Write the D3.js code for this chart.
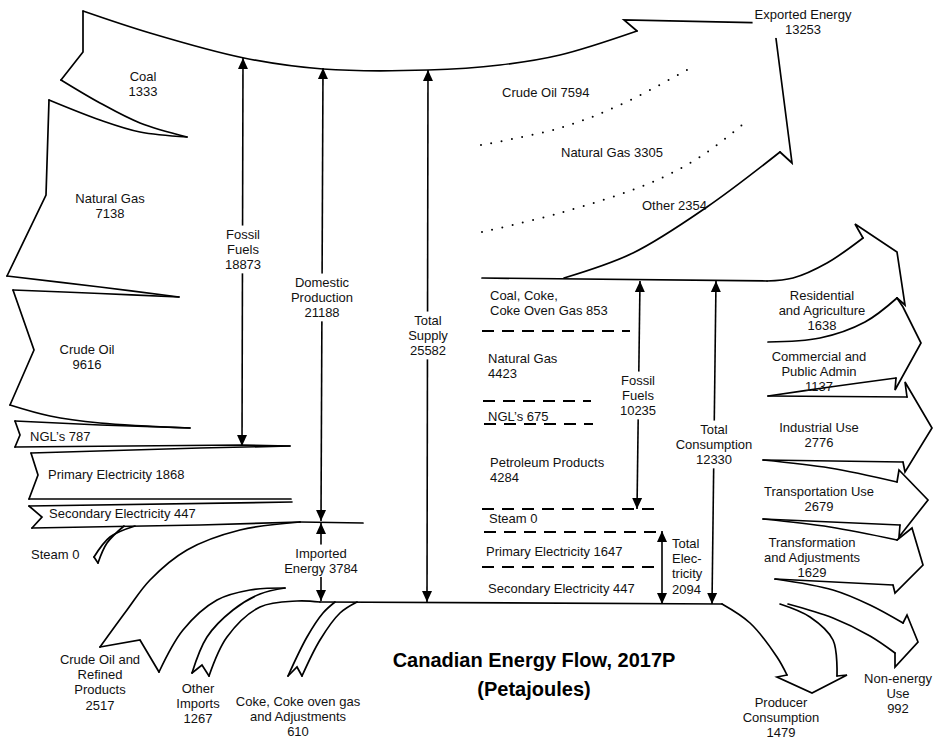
<!DOCTYPE html>
<html><head><meta charset="utf-8">
<script src="https://cdn.jsdelivr.net/npm/d3@7"></script>
<style>
body{margin:0;background:#fff}
svg{display:block}
text{font-family:"Liberation Sans",Arial,sans-serif;font-size:13px;fill:#111}
</style>
</head><body>
<svg id="chart" width="937" height="740"></svg>
<script>
// ---------------- DATA ----------------
const sourceLabels = ["Coal","Natural Gas","Crude Oil","NGL\u2019s","Primary Electricity","Secondary Electricity","Steam"];
const sourceValues = [1333,7138,9616,787,1868,447,0];

const importLabels = ["Crude Oil and\nRefined\nProducts","Other\nImports","Coke, Coke oven gas\nand Adjustments"];
const importValues = [2517,1267,610];

const exportLabels = ["Crude Oil","Natural Gas","Other"];
const exportValues = [7594,3305,2354];

const domesticLabels = ["Coal, Coke,\nCoke Oven Gas","Natural Gas","NGL\u2019s","Petroleum Products","Steam","Primary Electricity","Secondary Electricity"];
const domesticValues = [853,4423,675,4284,0,1647,447];

const useLabels = ["Residential\nand Agriculture","Commercial and\nPublic Admin","Industrial Use","Transportation Use","Transformation\nand Adjustments","Non-energy\nUse","Producer\nConsumption"];
const useValues = [1638,1137,2776,2679,1629,992,1479];

const totalLabels = ["Fossil\nFuels","Domestic\nProduction","Total\nSupply","Imported\nEnergy","Exported Energy","Fossil\nFuels","Total\nConsumption","Total\nElec-\ntricity"];
const totalValues = [18873,21188,25582,3784,13253,10235,12330,2094];

const titleLines = ["Canadian Energy Flow, 2017P","(Petajoules)"];

// ---------------- LAYOUT (drawing geometry of the schematic) ----------------
const C = true, L = false; // curved / straight edge
const edges = [
  // supply band top
  [C,[[83,11],[150,33],[244,58],[323,69],[428,70],[500,65],[560,55],[637,31]]],
  // coal
  [L,[[83,11],[83,52],[61,80]]],
  [C,[[61,80],[100,103],[140,123],[187,137]]],
  // natural gas
  [C,[[49,100],[100,120],[140,132],[187,137]]],
  [L,[[49,100],[46,195],[7,276]]],
  [C,[[7,276],[100,287],[179,297]]],
  // crude oil
  [C,[[13,290],[100,293.5],[179,297]]],
  [L,[[13,290],[34,350],[10,405]]],
  [C,[[10,405],[50,416],[100,423],[190,428]]],
  // NGL
  [L,[[15,421],[100,425],[190,428]]],
  [L,[[15,421],[20,435],[15,447]]],
  [L,[[15,447],[242,445],[290,446]]],
  // primary electricity
  [L,[[31,453],[200,448],[290,446]]],
  [L,[[31,453],[38,475],[29,499]]],
  [L,[[29,499],[291,499]]],
  // secondary electricity
  [L,[[29,506],[292,502]]],
  [L,[[29,506],[42,517],[32,528]]],
  [L,[[32,528],[200,525],[300,522]]],
  [L,[[300,522],[363,523]]],
  // steam
  [C,[[135,526],[110,537],[94,557]]],
  [L,[[94,557],[98,563]]],
  [C,[[98,563],[107,543],[124,526]]],
  // imports: crude oil & refined products
  [C,[[300,522],[240,530],[187,550],[150,580],[127,610],[100,647]]],
  [L,[[100,647],[140,640],[159,672]]],
  [C,[[159,672],[183,630],[217,600],[250,590],[285,588]]],
  // other imports
  [C,[[192,673],[207,637],[233,610],[260,594],[285,588]]],
  [L,[[192,673],[202,665],[209,676]]],
  [C,[[209,676],[227,637],[260,607],[297,601],[320,602]]],
  // coke
  [C,[[288,676],[307,637],[323,613],[335,602]]],
  [L,[[288,676],[297,667],[302,676]]],
  [C,[[302,676],[320,640],[340,613],[357,602]]],
  // bottom main line
  [L,[[320,602],[722,604]]],
  // export arrow
  [L,[[637,31],[624,20],[774,23],[792,163],[780,152]]],
  [C,[[780,152],[707,207],[633,253],[564,278]]],
  // demand band top line + residential
  [L,[[482,278],[767,281]]],
  [C,[[767,281],[793,278],[827,263],[863,238]]],
  [L,[[863,238],[855,224],[897,252],[905,305],[897,298]]],
  [C,[[768,342],[820,338],[865,322],[897,298]]],
  // commercial
  [L,[[897,298],[903,307],[921,343],[895,390],[896,378]]],
  [C,[[896,378],[830,387],[768,396]]],
  // industrial
  [L,[[768,396],[907,397]]],
  [L,[[907,397],[905,382],[932,428],[905,472],[903,462]]],
  [L,[[903,462],[763,460]]],
  // transportation
  [C,[[763,460],[830,468],[897,482]]],
  [L,[[897,482],[899,470],[928,500],[899,537],[900,525]]],
  [L,[[900,525],[763,519]]],
  // transformation
  [C,[[763,519],[830,527],[897,540]]],
  [L,[[897,540],[912,528],[923,565],[895,593],[893,585]]],
  [L,[[893,585],[775,579]]],
  // non-energy
  [C,[[775,579],[833,590],[870,605],[903,623]]],
  [L,[[903,623],[907,615],[918,642],[895,667],[895,653]]],
  [C,[[895,653],[870,636],[833,618],[788,604]]],
  // producer consumption
  [C,[[722,604],[750,623],[777,657],[787,675]]],
  [L,[[787,675],[777,677],[812,693],[847,675],[837,676]]],
  [C,[[837,676],[833,640],[810,617],[780,604]]]
];

const dotted = [
  [[481,145],[560,128],[620,105],[687,70]],
  [[482,232],[560,213],[650,183],[700,157],[747,121]]
];
const dashed = [
  [[482,331],[630,331]],
  [[483,401],[591,401]],
  [[484,424],[593,424]],
  [[482,509],[660,509]],
  [[484,532],[660,532]],
  [[482,567],[660,567]]
];
// double-headed vertical arrows for totals (index into totalLabels), exported has none
const arrows = [
  {i:0,x1:243,y1:58,x2:242,y2:446},
  {i:1,x1:323,y1:68,x2:321,y2:521},
  {i:2,x1:428,y1:70,x2:427,y2:602},
  {i:3,x1:321,y1:523,x2:321,y2:601},
  {i:5,x1:640,y1:281,x2:637,y2:509},
  {i:6,x1:716,y1:281,x2:712,y2:604},
  {i:7,x1:662,y1:531,x2:662,y2:604}
];

const sourcePos = [
  {x:143,y:76,a:"middle",j:"\n"},{x:110,y:198,a:"middle",j:"\n"},{x:87,y:349,a:"middle",j:"\n"},
  {x:30,y:436,a:"start",j:" "},{x:48,y:474,a:"start",j:" "},{x:49,y:513,a:"start",j:" "},{x:31,y:554,a:"start",j:" "}
];
const importPos = [{x:100,y:659,a:"middle",j:"\n"},{x:198,y:688,a:"middle",j:"\n"},{x:298,y:701,a:"middle",j:"\n"}];
const exportPos = [{x:502,y:92,a:"start",j:" "},{x:561,y:152,a:"start",j:" "},{x:642,y:205,a:"start",j:" "}];
const domesticPos = [
  {x:490,y:295,a:"start",j:" "},{x:488,y:358,a:"start",j:"\n"},{x:488,y:416,a:"start",j:" "},
  {x:490,y:462,a:"start",j:"\n"},{x:489,y:518,a:"start",j:" "},{x:486,y:551,a:"start",j:" "},{x:488,y:588,a:"start",j:" "}
];
const usePos = [
  {x:822,y:295,a:"middle",j:"\n"},{x:819,y:356,a:"middle",j:"\n"},{x:819,y:427,a:"middle",j:"\n"},
  {x:819,y:491,a:"middle",j:"\n"},{x:812,y:542,a:"middle",j:"\n"},{x:898,y:678,a:"middle",j:"\n"},{x:781,y:702,a:"middle",j:"\n"}
];
const totalPos = [
  {x:243,y:234,a:"middle",j:"\n"},{x:322,y:282,a:"middle",j:"\n"},{x:428,y:320,a:"middle",j:"\n"},
  {x:321,y:553,a:"middle",j:" "},{x:803,y:14,a:"middle",j:"\n"},{x:638,y:380,a:"middle",j:"\n"},
  {x:714,y:429,a:"middle",j:"\n"},{x:672,y:543,a:"start",j:"\n"}
];
const LH = 15.4;

// ---------------- DRAW ----------------
const svg = d3.select("#chart");
svg.append("rect").attr("width",937).attr("height",740).attr("fill","#fff");

const defs = svg.append("defs");
defs.append("marker").attr("id","ah").attr("markerUnits","userSpaceOnUse")
  .attr("viewBox","0 -6 12 12").attr("refX",11).attr("refY",0)
  .attr("markerWidth",12).attr("markerHeight",12).attr("orient","auto-start-reverse")
  .append("path").attr("d","M0,-5L11,0L0,5Z").attr("fill","#000");

const curveLine = d3.line().curve(d3.curveCatmullRom.alpha(0.5));
const straightLine = d3.line().curve(d3.curveLinear);

svg.append("g").selectAll("path").data(edges).join("path")
  .attr("d", d => (d[0] ? curveLine : straightLine)(d[1]))
  .attr("fill","none").attr("stroke","#000").attr("stroke-width",1.7)
  .attr("stroke-linejoin","miter").attr("stroke-linecap","round");

svg.append("g").selectAll("path").data(dotted).join("path")
  .attr("d", curveLine).attr("fill","none").attr("stroke","#000")
  .attr("stroke-width",2).attr("stroke-linecap","round").attr("stroke-dasharray","0,10.5");

svg.append("g").selectAll("path").data(dashed).join("path")
  .attr("d", straightLine).attr("fill","none").attr("stroke","#000")
  .attr("stroke-width",1.8).attr("stroke-dasharray","12,8");

svg.append("g").selectAll("line").data(arrows).join("line")
  .attr("x1",d=>d.x1).attr("y1",d=>d.y1).attr("x2",d=>d.x2).attr("y2",d=>d.y2)
  .attr("stroke","#000").attr("stroke-width",1.6)
  .attr("marker-start","url(#ah)").attr("marker-end","url(#ah)");

const labelLayer = svg.append("g");
function drawLabel(text, p, halo, cls){
  const g = labelLayer.append("g");
  const t = g.append("text").attr("x",p.x).attr("y",p.y).attr("text-anchor",p.a);
  if (cls) t.attr("class",cls);
  text.split("\n").forEach((ln,k)=>{
    t.append("tspan").attr("x",p.x).attr("dy", k===0 ? "0.35em" : LH).text(ln);
  });
  if (halo){
    const b = t.node().getBBox();
    g.insert("rect","text").attr("x",b.x-2).attr("y",b.y-1).attr("width",b.width+4).attr("height",b.height+2).attr("fill","#fff");
  }
}
function group(labels, values, pos, halo){
  labels.forEach((lab,i)=> drawLabel(lab + pos[i].j + values[i], pos[i], halo));
}
group(sourceLabels, sourceValues, sourcePos, false);
group(importLabels, importValues, importPos, false);
group(exportLabels, exportValues, exportPos, false);
group(domesticLabels, domesticValues, domesticPos, false);
group(useLabels, useValues, usePos, false);
group(totalLabels, totalValues, totalPos, true);

svg.append("g").selectAll("text").data(titleLines).join("text")
  .attr("x",534).attr("y",(d,i)=>660 + i*29).attr("dy","0.35em")
  .attr("text-anchor","middle").style("font-size","20px").style("font-weight","bold")
  .style("fill","#000").text(d=>d);
</script>
</body></html>
